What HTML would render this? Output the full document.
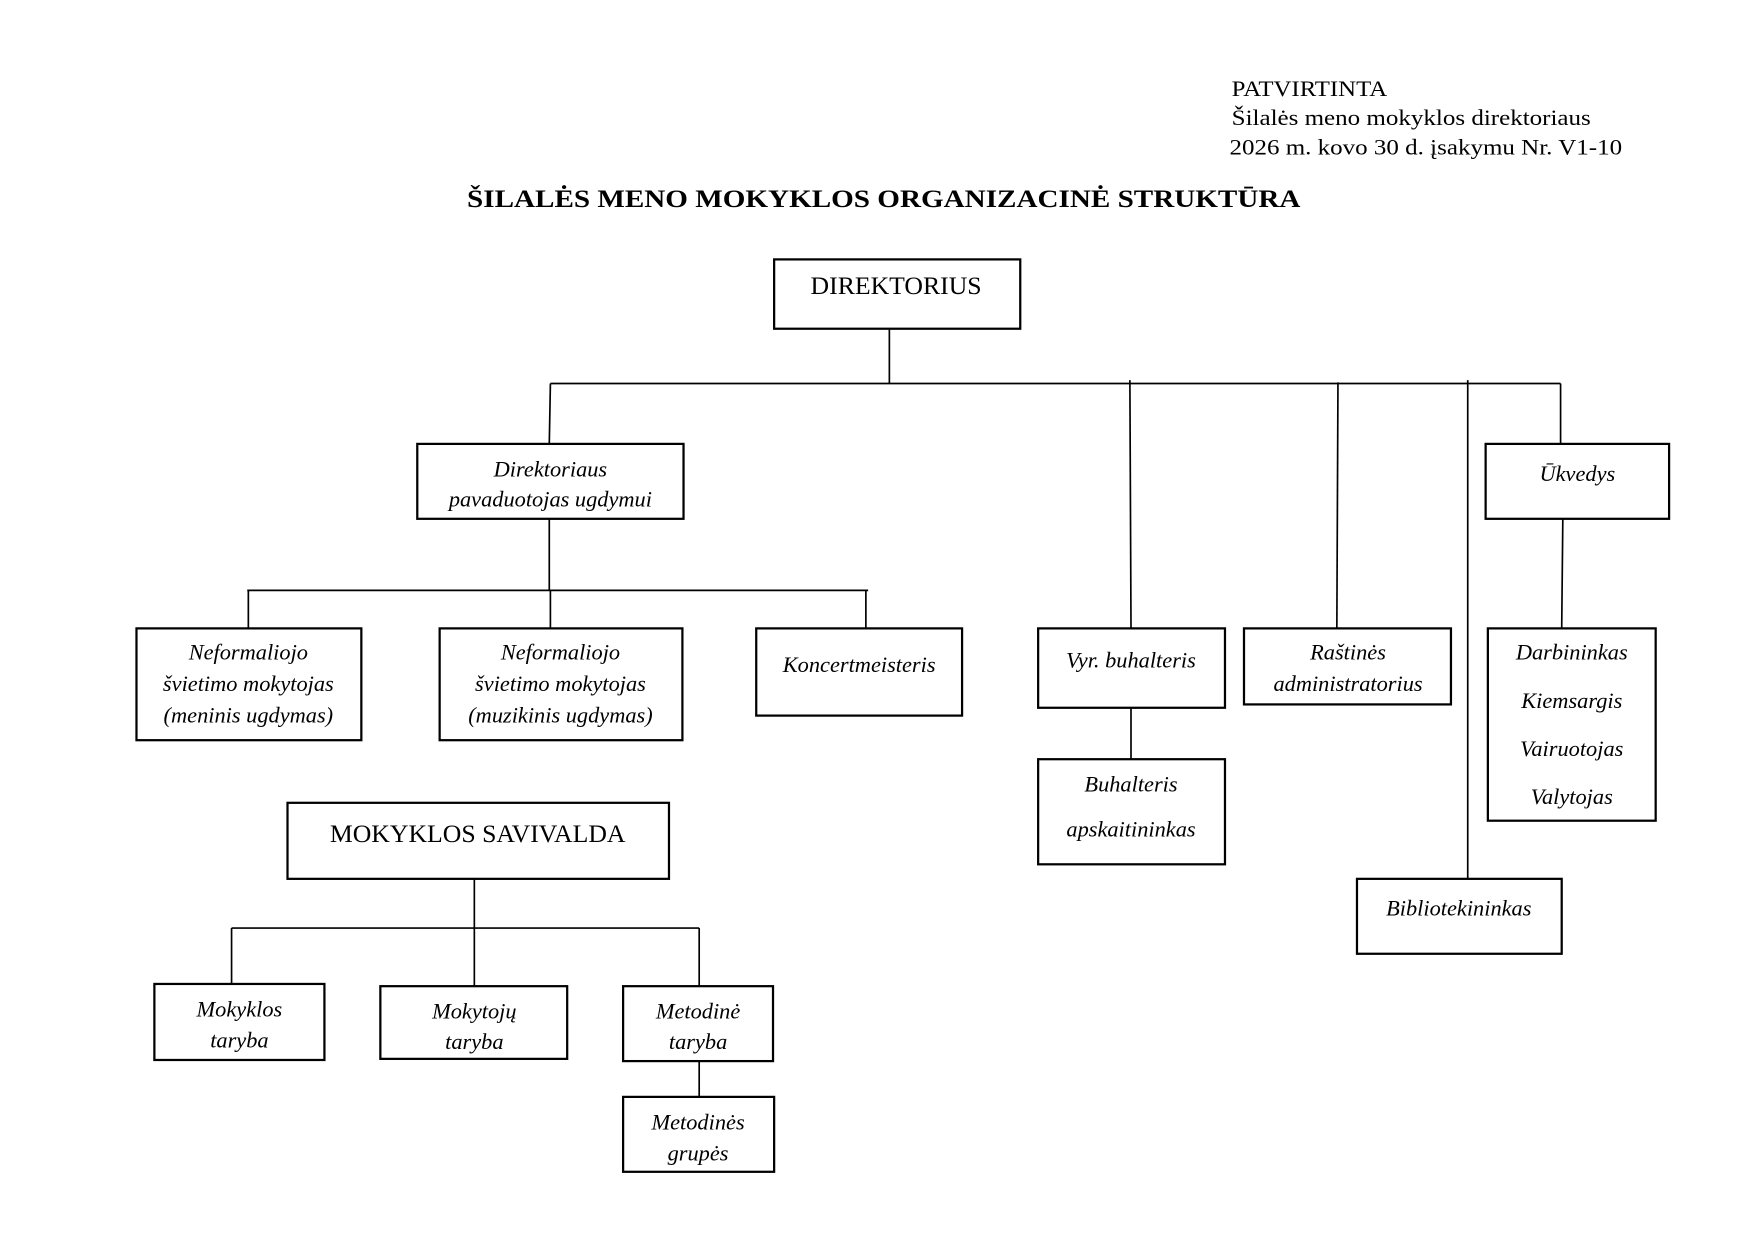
<!DOCTYPE html>
<html><head><meta charset="utf-8"><style>
html,body{margin:0;padding:0;background:#fff;}
svg{display:block;}
text{font-family:"Liberation Serif",serif;fill:#000;}
.i{font-style:italic;font-size:20px;}
</style></head><body>
<svg width="1753" height="1240" viewBox="0 0 1567 1109" preserveAspectRatio="none" xmlns="http://www.w3.org/2000/svg">
<g font-size="20">
<text x="1101" y="86" textLength="139" lengthAdjust="spacingAndGlyphs">PATVIRTINTA</text>
<text x="1101" y="112" textLength="321" lengthAdjust="spacingAndGlyphs">Šilalės meno mokyklos direktoriaus</text>
<text x="1099" y="138" textLength="351" lengthAdjust="spacingAndGlyphs">2026 m. kovo 30 d. įsakymu Nr. V1-10</text>
</g>
<text x="790" y="185" text-anchor="middle" font-weight="bold" font-size="23" textLength="745" lengthAdjust="spacingAndGlyphs">ŠILALĖS MENO MOKYKLOS ORGANIZACINĖ STRUKTŪRA</text>

<g stroke="#000" stroke-width="1.5" fill="none">
<line x1="795" y1="294" x2="795" y2="343"/>
<line x1="492" y1="343" x2="1395" y2="343"/>
<line x1="492" y1="343" x2="491" y2="397"/>
<line x1="1010" y1="340" x2="1011" y2="562"/>
<line x1="1196" y1="342" x2="1195" y2="562"/>
<line x1="1312" y1="340" x2="1312" y2="786"/>
<line x1="1395" y1="343" x2="1395" y2="397"/>
<line x1="491" y1="464" x2="491" y2="528"/>
<line x1="221" y1="528" x2="776" y2="528"/>
<line x1="222" y1="528" x2="222" y2="562"/>
<line x1="492" y1="528" x2="492" y2="562"/>
<line x1="774" y1="528" x2="774" y2="562"/>
<line x1="1011" y1="633" x2="1011" y2="679"/>
<line x1="1397" y1="464" x2="1396" y2="562"/>
<line x1="424" y1="786" x2="424" y2="830"/>
<line x1="207" y1="830" x2="625" y2="830"/>
<line x1="207" y1="830" x2="207" y2="880"/>
<line x1="424" y1="830" x2="424" y2="882"/>
<line x1="625" y1="830" x2="625" y2="882"/>
<line x1="625" y1="949" x2="625" y2="981"/>
</g>
<g stroke="#000" stroke-width="2" fill="#fff">
<rect x="692" y="232" width="220" height="62"/>
<rect x="373" y="397" width="238" height="67"/>
<rect x="1328" y="397" width="164" height="67"/>
<rect x="122" y="562" width="201" height="100"/>
<rect x="393" y="562" width="217" height="100"/>
<rect x="676" y="562" width="184" height="78"/>
<rect x="928" y="562" width="167" height="71"/>
<rect x="928" y="679" width="167" height="94"/>
<rect x="1112" y="562" width="185" height="68"/>
<rect x="1330" y="562" width="150" height="172"/>
<rect x="1213" y="786" width="183" height="67"/>
<rect x="257" y="718" width="341" height="68"/>
<rect x="138" y="880" width="152" height="68"/>
<rect x="340" y="882" width="167" height="65"/>
<rect x="557" y="882" width="134" height="67"/>
<rect x="557" y="981" width="135" height="67"/>
</g>
<g text-anchor="middle">
<text x="801" y="263" font-size="23">DIREKTORIUS</text>
<text x="427" y="753" font-size="23">MOKYKLOS SAVIVALDA</text>
<g class="i">
<text x="492" y="426">Direktoriaus</text>
<text x="492" y="453">pavaduotojas ugdymui</text>
<text x="1410" y="430">Ūkvedys</text>
<text x="222" y="590">Neformaliojo</text>
<text x="222" y="618">švietimo mokytojas</text>
<text x="222" y="646">(meninis ugdymas)</text>
<text x="501" y="590">Neformaliojo</text>
<text x="501" y="618">švietimo mokytojas</text>
<text x="501" y="646">(muzikinis ugdymas)</text>
<text x="768" y="601">Koncertmeisteris</text>
<text x="1011" y="597">Vyr. buhalteris</text>
<text x="1011" y="708">Buhalteris</text>
<text x="1011" y="748">apskaitininkas</text>
<text x="1205" y="590">Raštinės</text>
<text x="1205" y="618">administratorius</text>
<text x="1405" y="590">Darbininkas</text>
<text x="1405" y="633">Kiemsargis</text>
<text x="1405" y="676">Vairuotojas</text>
<text x="1405" y="719">Valytojas</text>
<text x="1304" y="819">Bibliotekininkas</text>
<text x="214" y="909">Mokyklos</text>
<text x="214" y="937">taryba</text>
<text x="424" y="911">Mokytojų</text>
<text x="424" y="938">taryba</text>
<text x="624" y="911">Metodinė</text>
<text x="624" y="938">taryba</text>
<text x="624" y="1010">Metodinės</text>
<text x="624" y="1038">grupės</text>
</g>
</g>
</svg>
</body></html>
